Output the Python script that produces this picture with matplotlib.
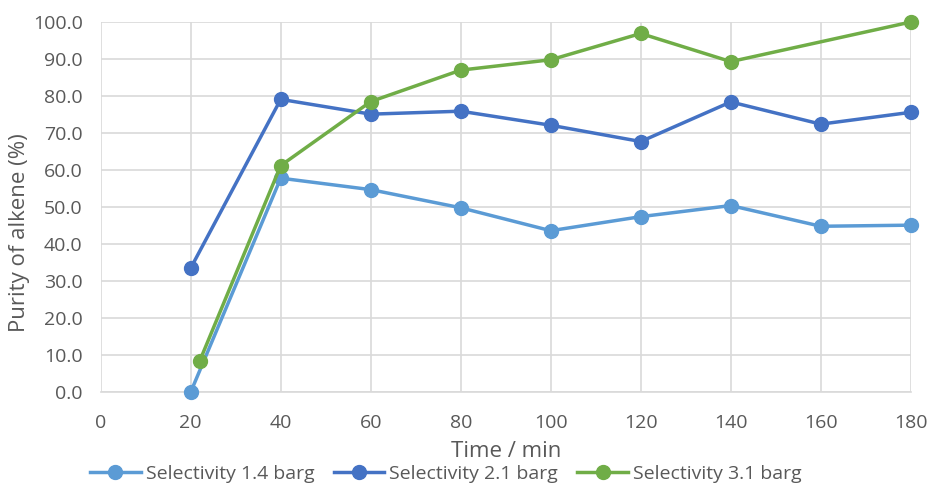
import matplotlib.pyplot as plt

plt.rcParams['font.family'] = ['Liberation Sans Narrow', 'Open Sans', 'DejaVu Sans']

# sampling times (min) and alkene purity (%)
time_14 = [20, 40, 60, 80, 100, 120, 140, 160, 180]
sel_14 = [0.0, 57.8, 54.7, 49.8, 43.6, 47.4, 50.4, 44.8, 45.1]

time_21 = [20, 40, 60, 80, 100, 120, 140, 160, 180]
sel_21 = [33.5, 79.1, 75.1, 75.9, 72.1, 67.7, 78.4, 72.4, 75.6]

time_31 = [22, 40, 60, 80, 100, 120, 140, 180]
sel_31 = [8.4, 61.2, 78.5, 87.0, 89.8, 96.9, 89.3, 100.0]

labels = ["Selectivity 1.4 barg", "Selectivity 2.1 barg", "Selectivity 3.1 barg"]
colors = ["#5B9BD5", "#4472C4", "#70AD47"]

fig = plt.figure(figsize=(9.29, 4.84), dpi=100)
ax = fig.add_axes([0.1084, 0.19, 0.872, 0.7645])

for t, s, lab, c in zip([time_14, time_21, time_31], [sel_14, sel_21, sel_31], labels, colors):
    ax.plot(t, s, color=c, lw=2.5, marker='o', ms=10, label=lab, clip_on=False, zorder=3)

ax.set_xlim(0, 180)
ax.set_ylim(0, 100)
ax.set_xticks(range(0, 181, 20))
ax.set_yticks(range(0, 101, 10))
ax.set_yticklabels([f"{v:.1f}" for v in range(0, 101, 10)])
ax.grid(True, color="#D9D9D9", lw=1.2)
ax.set_axisbelow(True)
for side in ["top", "right", "left"]:
    ax.spines[side].set_visible(False)
ax.spines["bottom"].set_color("#D9D9D9")
ax.spines["bottom"].set_linewidth(1.2)
ax.tick_params(length=0, labelsize=14, colors="#595959")
ax.tick_params(axis="x", pad=16)
ax.tick_params(axis="y", pad=13)

ax.set_xlabel("Time / min", fontsize=16, color="#595959", labelpad=6)
ax.set_ylabel("Purity of alkene (%)", fontsize=16, color="#595959", va="center")
ax.yaxis.set_label_coords(-0.1, 0.43)

ax.legend(loc="center left", bbox_to_anchor=(-0.013, -0.222), ncol=3, frameon=False,
          fontsize=14, labelcolor="#595959", handlelength=2.6, columnspacing=1.0,
          handletextpad=0.25, borderaxespad=0, borderpad=0)

fig.savefig("out.png", dpi=100)
